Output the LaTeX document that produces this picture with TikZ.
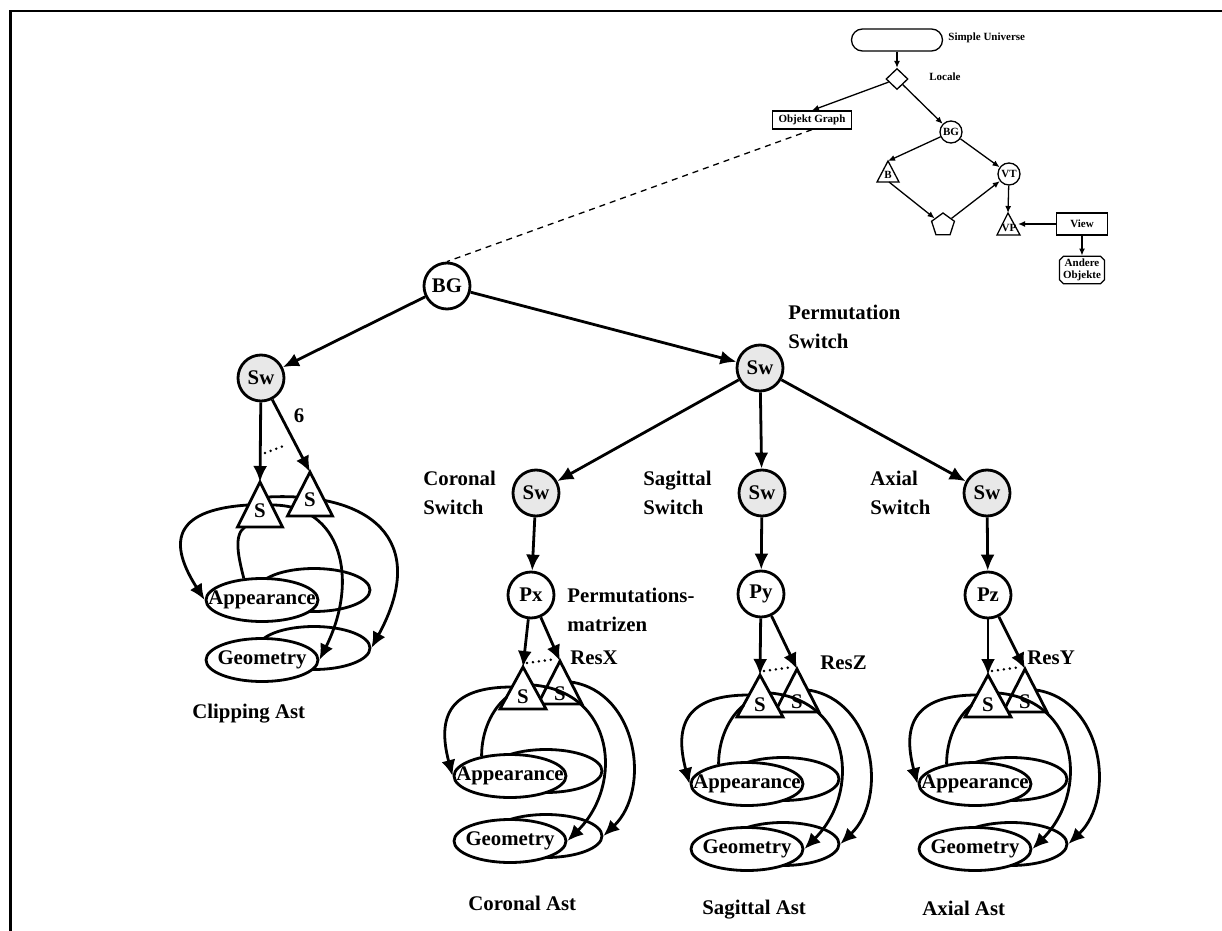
\documentclass[tikz,border=0pt]{standalone}
\usepackage{fontspec}
\setmainfont{Liberation Serif}
\usetikzlibrary{arrows.meta,shapes.geometric,shapes.misc,calc}

\tikzset{
  main/.style={line width=1.4pt},
  arr/.style={main, -{Latex[length=8pt,width=7pt]}},
  circ/.style={circle, draw, line width=1.4pt, minimum size=23pt, inner sep=0pt, fill=white},
  swc/.style={circ, fill=gray!18},
  tri/.style={draw, line width=1.4pt, fill=white, line join=miter},
  ell/.style={draw, ellipse, fill=white, line width=1.4pt, minimum width=56pt, minimum height=21.5pt, inner sep=0pt},
  lbl/.style={align=left, anchor=west, inner sep=0pt},
  dots/.style={line width=1.4pt, dash pattern=on 0pt off 3pt, line cap=round},
  small/.style={font=\bfseries\fontsize{5.5}{5.8}\selectfont},
  sline/.style={line width=0.65pt},
  sarr/.style={sline, -{Latex[length=3.5pt,width=3pt]}},
}

\newcommand\astcluster[4]{%
  \coordinate (#1-a1) at (#3,-#4);
  \coordinate (#1-a2) at ({#3+37},{-#4+6});
  \node[ell] (#1-ab) at ({#3+23},{-#4-104}) {};
  \node[ell] (#1-gb) at ({#3+23},{-#4-169}) {};
  \node[ell] (#1-af) at ({#3-13},{-#4-109}) {\makebox[0pt]{Appearance}};
  \node[ell] (#1-gf) at ({#3-13},{-#4-174}) {\makebox[0pt]{Geometry}};
  \draw[tri] (#1-a2) -- ++(-22,-43) -- ++(44,0) -- cycle;
  \node (#1-s2) at ({#3+37},{-#4-27}) {S};
  \draw[tri] (#1-a1) -- ++(-23,-42) -- ++(46,0) -- cycle;
  \node (#1-s1) at (#3,{-#4-30}) {S};
  \coordinate (#1-pA) at ({#3-11},{-#4-20});
  \coordinate (#1-pB) at ({#3-16},{-#4-30});
  \coordinate (#1-pC) at ({#3+10},{-#4-18});
  \coordinate (#1-pD) at ({#3+48},{-#4-15});
  \draw[arr] (#1-pA) .. controls +(-62,0) and +(-16,60) .. (#1-af.west);
  \draw[main] (#1-pB) .. controls +(-15,-12) and +(0,25) .. (#1-af.145);
  \draw[arr] (#1-pC) .. controls +(81,-7) and +(57,57) .. (#1-gf.east);
  \draw[arr] (#1-pD) .. controls +(67,-10) and +(48,46) .. (#1-gb.east);
  \draw[arr] (#2) -- (#1-a1);
  \draw[arr] (#2) -- (#1-a2);
  \draw[dots] ({#3+4},{-#4+4}) -- ({#3+33},{-#4+8});
}

\begin{document}
\begin{tikzpicture}[x=0.5pt,y=0.5pt,
  every node/.style={font=\bfseries\fontsize{10.4}{14.5}\selectfont}]
\useasboundingbox (0,0) rectangle (1222,-931);
\draw[line width=1.25pt, line join=miter] (10.5,-931) -- (10.5,-11) -- (1222,-11);

% ---------- small diagram (top right) ----------
\node[draw, sline, rounded corners=5.5pt, minimum width=45.5pt, minimum height=11pt, inner sep=0pt] (su) at (897,-40) {};
\node[small, anchor=west, inner sep=0pt] (sul) at (948,-38) {Simple Universe};
\node[draw, sline, diamond, minimum width=11pt, minimum height=10.5pt, inner sep=0pt] (loc) at (897,-79) {};
\node[small, anchor=west, inner sep=0pt] (locl) at (929,-77) {Locale};
\node[draw, sline, small, minimum width=39.5pt, minimum height=9pt, inner sep=1pt] (og) at (812,-120) {Objekt Graph};
\node[draw, sline, circle, small, minimum size=11pt, inner sep=0pt, fill=white] (sbg) at (951,-132) {BG};
\coordinate (b-top) at (888,-161);
\coordinate (b-bot) at (889,-182);
\draw[sline, fill=white] (b-top) -- (877,-182) -- (899,-182) -- cycle;
\node[small] (b) at (888,-175) {B};
\node[draw, sline, circle, small, minimum size=11pt, inner sep=0pt, fill=white] (vt) at (1009,-174) {VT};
\node[draw, sline, regular polygon, regular polygon sides=5, minimum size=12pt, inner sep=0pt] (pent) at (943,-225) {};
\coordinate (vp-top) at (1008,-213);
\coordinate (vp-r) at (1018,-224);
\draw[sline, fill=white] (vp-top) -- (997,-235) -- (1020,-235) -- cycle;
\node[small] (vp) at (1009,-228) {VP};
\node[draw, sline, small, minimum width=25.5pt, minimum height=11pt, inner sep=0pt] (view) at (1082,-224) {View};
\node[draw, sline, small, chamfered rectangle, chamfered rectangle xsep=1pt, chamfered rectangle ysep=1pt, align=center, minimum width=22.5pt, minimum height=13.5pt, inner sep=0.5pt] (ao) at (1082,-270) {Andere\\Objekte};

\draw[sarr] (su) -- (loc);
\draw[sarr] (loc) -- (og.north);
\draw[sarr] (loc) -- (sbg);
\draw[sarr] (sbg) -- (b-top);
\draw[sarr] (sbg) -- (vt);
\draw[sarr] (b-bot) -- (pent);
\draw[sarr] (pent) -- (vt);
\draw[sarr] (vt) -- (vp-top);
\draw[sarr] (view) -- (vp-r);
\draw[sarr] (view) -- (ao);

% ---------- main tree ----------
\node[circ] (bg) at (447,-286) {BG};
\node[swc] (lsw) at (261,-378) {Sw};
\node[swc] (psw) at (760,-368) {Sw};
\node[swc] (csw) at (536,-493) {Sw};
\node[swc] (ssw) at (762,-493) {Sw};
\node[swc] (asw) at (987,-493) {Sw};
\node[circ] (px) at (531,-595) {Px};
\node[circ] (py) at (761,-594) {Py};
\node[circ] (pz) at (988,-595) {Pz};

\draw[sline, dash pattern=on 3pt off 2.5pt] (og.south) -- (bg.north);
\draw[arr] (bg) -- (lsw);
\draw[arr] (bg) -- (psw);
\draw[arr] (psw) -- (csw);
\draw[arr] (psw) -- (ssw);
\draw[arr] (psw) -- (asw);
\draw[arr] (csw) -- (px);
\draw[arr] (ssw) -- (py);
\draw[arr] (asw) -- (pz);

% ---------- clipping cluster ----------
\coordinate (l-a1) at (260,-482);
\coordinate (l-a2) at (310,-472);
\node[ell] (l-ab) at (314,-590) {};
\node[ell] (l-gb) at (314,-648) {};
\node[ell] (l-af) at (262,-600) {\makebox[0pt]{Appearance}};
\node[ell] (l-gf) at (262,-660) {\makebox[0pt]{Geometry}};
\coordinate (l-pA) at (248,-505);
\coordinate (l-pB) at (245,-527);
\coordinate (l-pC) at (272,-505);
\coordinate (l-pD) at (268,-497);
\draw[arr] (l-pA) .. controls +(-78,-5) and +(-35,55) .. (l-af.west);
\draw[main] (l-pB) .. controls +(-12,-8) and +(-5,20) .. (l-af.130);
\draw[arr] (l-pC) .. controls +(70,0) and +(40,80) .. (l-gf.east);
\draw[arr] (l-pD) .. controls +(100,5) and +(60,110) .. (l-gb.east);
\draw[tri] (l-a2) -- ++(-22.5,-44) -- ++(45,0) -- cycle;
\node (l-s2) at (310,-500) {S};
\draw[tri] (l-a1) -- ++(-22.5,-45) -- ++(45,0) -- cycle;
\node (l-s1) at (260,-511) {S};
\draw[arr] (lsw) -- (l-a1);
\draw[arr] (lsw) -- (l-a2);
\draw[dots] (265,-453) -- (286,-445);
\node (six) at (299,-416) {6};

% ---------- other clusters ----------
\astcluster{c}{px}{523}{667}
\astcluster{s}{py}{760}{675}
\astcluster{a}{pz}{988}{675}

% ---------- labels ----------
\node[lbl] (t-perm) at (788,-327) {Permutation\\Switch};
\node[lbl] (t-cor) at (423,-493) {Coronal\\Switch};
\node[lbl] (t-sag) at (643,-493) {Sagittal\\Switch};
\node[lbl] (t-ax) at (870,-493) {Axial\\Switch};
\node[lbl] (t-pm) at (567,-610) {Permutations-\\matrizen};
\node[lbl] (t-rx) at (570,-658) {ResX};
\node[lbl] (t-rz) at (820,-663) {ResZ};
\node[lbl] (t-ry) at (1027,-658) {ResY};
\node[lbl] (t-clip) at (192,-714) {Clipping Ast};
\node[lbl] (t-corast) at (468,-903) {Coronal Ast};
\node[lbl] (t-sagast) at (702,-910) {Sagittal Ast};
\node[lbl] (t-axast) at (922,-908) {Axial Ast};
\end{tikzpicture}
\end{document}
